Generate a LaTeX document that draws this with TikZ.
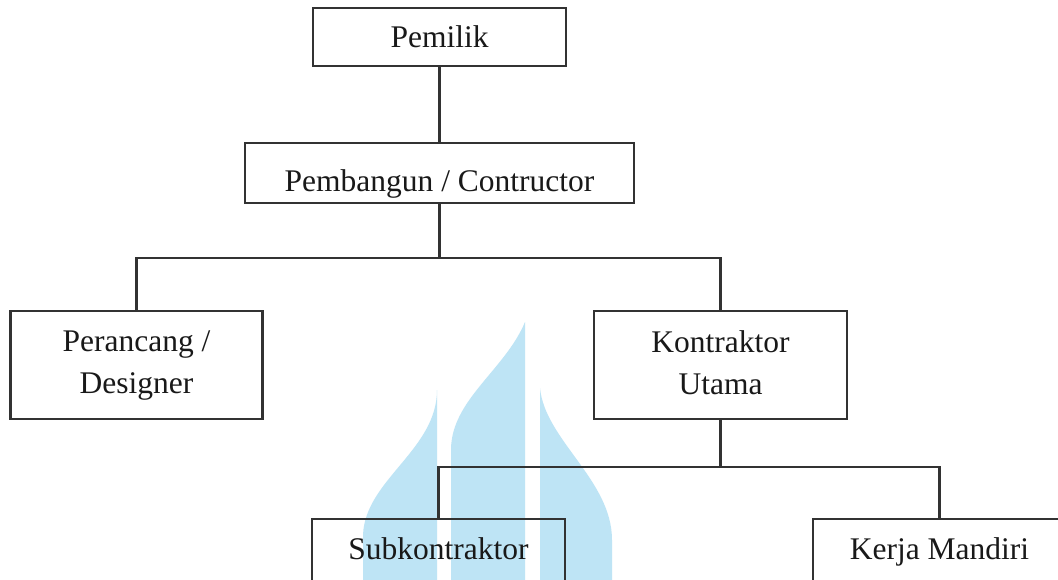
\documentclass[tikz,border=0pt]{standalone}
\usepackage{fontspec}
\setmainfont{Liberation Serif}
\definecolor{linegray}{RGB}{50,50,50}
\definecolor{textgray}{RGB}{25,25,25}
\definecolor{emblemblue}{RGB}{190,228,245}
\begin{document}
\begin{tikzpicture}[x=1pt,y=-1pt,
  box/.style={draw=linegray, line width=2.2pt, inner sep=0pt},
  lbl/.style={font=\fontsize{31.5}{42}\selectfont, text=textgray, inner sep=0pt, align=center},
  link/.style={draw=linegray, line width=2.2pt}]
\useasboundingbox (0,0) rectangle (1058,580);
\clip (0,0) rectangle (1058,580);
\fill[white] (0,0) rectangle (1058,580);

% background emblem: three tapered blue shapes
\fill[emblemblue] (363,580) -- (363,535) .. controls (365,480) and (437,450) .. (437,390) -- (437,580) -- cycle;
\fill[emblemblue] (451,580) -- (451,450) .. controls (451,400) and (505,370) .. (525,322) -- (525,580) -- cycle;
\fill[emblemblue] (540,580) -- (540,388) .. controls (545,440) and (612,480) .. (612,540) -- (612,580) -- cycle;

% boxes
\node[box, minimum width=253pt, minimum height=58pt] (pemilik) at (439.5,37) {};
\node[box, minimum width=389pt, minimum height=60pt] (pembangun) at (439.5,173) {};
\node[box, minimum width=252pt, minimum height=108pt] (perancang) at (136.5,365) {};
\node[box, minimum width=253pt, minimum height=108pt] (kontraktor) at (720.5,365) {};
\node[box, minimum width=253pt, minimum height=108pt] (sub) at (438.5,573) {};
\node[box, minimum width=253pt, minimum height=108pt] (kerja) at (939.5,573) {};

% labels
\node[lbl, anchor=base] (tpemilik) at (439.5,48) {Pemilik};
\node[lbl, anchor=base] (tpembangun) at (439.5,192) {Pembangun / Contructor};
\node[lbl] (tperancang) at (136.5,365.5) {Perancang /\\Designer};
\node[lbl] (tkontraktor) at (720.5,362.5) {Kontraktor\\Utama};
\node[lbl, anchor=base] (tsub) at (438.5,559) {Subkontraktor};
\node[lbl, anchor=base] (tkerja) at (939.5,559) {Kerja Mandiri};

% connectors
\coordinate (bar1) at (439.5,258);
\coordinate (bar2) at (720.5,467);
\draw[link] (pemilik.south) -- (pembangun.north);
\draw[link] (pembangun.south) -- (bar1) -| (perancang.north);
\draw[link] (bar1) -| (kontraktor.north);
\draw[link] (kontraktor.south) -- (bar2) -| (sub.north);
\draw[link] (bar2) -| (kerja.north);
\end{tikzpicture}
\end{document}
